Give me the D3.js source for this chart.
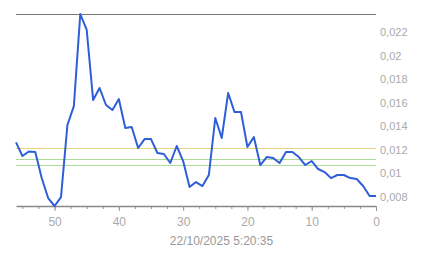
<!DOCTYPE html>
<html>
<head>
<meta charset="utf-8">
<script src="https://cdn.jsdelivr.net/npm/d3@7"></script>
<style>
  body { margin: 0; background: #fff; }
  text { font-family: "Liberation Sans", Arial, sans-serif; }
</style>
</head>
<body>
<div id="wrapper"></div>
<script>
// seconds ago (x) and values
const ages = d3.range(56, -1, -1)
const values = [
  0.01263, 0.01147, 0.01185, 0.01181, 0.00959, 0.00789, 0.00721, 0.00797,
  0.01411, 0.01572, 0.02356, 0.02220, 0.01623, 0.01726, 0.01581, 0.01538,
  0.01632, 0.01385, 0.01394, 0.01215, 0.01291, 0.01291, 0.01172, 0.01164,
  0.01087, 0.01232, 0.01104, 0.00883, 0.00925, 0.00891, 0.00985, 0.01470,
  0.01300, 0.01683, 0.01521, 0.01521, 0.01223, 0.01308, 0.01070, 0.01138,
  0.01130, 0.01087, 0.01181, 0.01181, 0.01138, 0.01070, 0.01104, 0.01036,
  0.01010, 0.00959, 0.00985, 0.00985, 0.00959, 0.00951, 0.00891, 0.00806,
  0.00806
]
const xTicks = [50, 40, 30, 20, 10, 0]
const yTicks = [0.008, 0.01, 0.012, 0.014, 0.016, 0.018, 0.02, 0.022]
const refLines = [
  { value: 0.01212, color: "#e6d282" },
  { value: 0.01118, color: "#aedc98" },
  { value: 0.0107, color: "#aedc98" },
]
const timestamp = "22/10/2025 5:20:35"

const dataset = ages.map((a, i) => ({ age: a, value: values[i] }))

const dimensions = {
  width: 443,
  height: 258,
  margin: { top: 14, right: 67, bottom: 52, left: 16 },
}
dimensions.boundedWidth = dimensions.width - dimensions.margin.left - dimensions.margin.right
dimensions.boundedHeight = dimensions.height - dimensions.margin.top - dimensions.margin.bottom

const svg = d3.select("#wrapper").append("svg")
  .attr("width", dimensions.width)
  .attr("height", dimensions.height)

const bounds = svg.append("g")
  .attr("transform", `translate(${dimensions.margin.left},${dimensions.margin.top})`)

const xScale = d3.scaleLinear()
  .domain([56, 0])
  .range([0, dimensions.boundedWidth])

const yScale = d3.scaleLinear()
  .domain(d3.extent(values))
  .range([dimensions.boundedHeight, 0])

const fmt = d => String(+d.toFixed(3)).replace(".", ",")

// reference lines
bounds.selectAll(".ref")
  .data(refLines)
  .join("line")
  .attr("x1", 0)
  .attr("x2", dimensions.boundedWidth)
  .attr("y1", d => Math.round(yScale(d.value)) + 0.5)
  .attr("y2", d => Math.round(yScale(d.value)) + 0.5)
  .attr("stroke", d => d.color)
  .attr("stroke-width", 1)

// top border
bounds.append("line")
  .attr("x1", 0).attr("x2", dimensions.boundedWidth)
  .attr("y1", 0.5).attr("y2", 0.5)
  .attr("stroke", "#777")

// x axis with minor ticks
const xAxisG = bounds.append("g")
  .attr("transform", `translate(0,${dimensions.boundedHeight})`)

xAxisG.append("g")
  .call(d3.axisBottom(xScale).tickValues(d3.range(55, -1, -2.5)).tickSize(3).tickFormat(""))
  .call(g => g.select(".domain").remove())
  .call(g => g.selectAll("line").attr("stroke", "#999"))

xAxisG.append("g")
  .call(d3.axisBottom(xScale).tickValues(xTicks).tickSize(5).tickSizeOuter(0).tickPadding(6))
  .call(g => g.select(".domain").attr("stroke", "#888").attr("stroke-width", 1.5))
  .call(g => g.selectAll("line").attr("stroke", "#999"))
  .call(g => g.selectAll("text").attr("fill", "#aaa").style("font-size", "12px"))

// y axis labels on the right
bounds.append("g")
  .attr("transform", `translate(${dimensions.boundedWidth},0)`)
  .call(d3.axisRight(yScale).tickValues(yTicks).tickSize(0).tickPadding(4).tickFormat(fmt))
  .call(g => g.select(".domain").remove())
  .call(g => g.selectAll("text").attr("fill", "#aaa").style("font-size", "11px"))

// the line
const line = d3.line()
  .x(d => xScale(d.age))
  .y(d => yScale(d.value))

bounds.append("path")
  .datum(dataset)
  .attr("fill", "none")
  .attr("stroke", "#2e5fd8")
  .attr("stroke-width", 2)
  .attr("stroke-linejoin", "round")
  .attr("d", line)

// timestamp
svg.append("text")
  .attr("x", dimensions.width / 2)
  .attr("y", 245)
  .attr("text-anchor", "middle")
  .attr("fill", "#999")
  .style("font-size", "12px")
  .text(timestamp)
</script>
</body>
</html>
